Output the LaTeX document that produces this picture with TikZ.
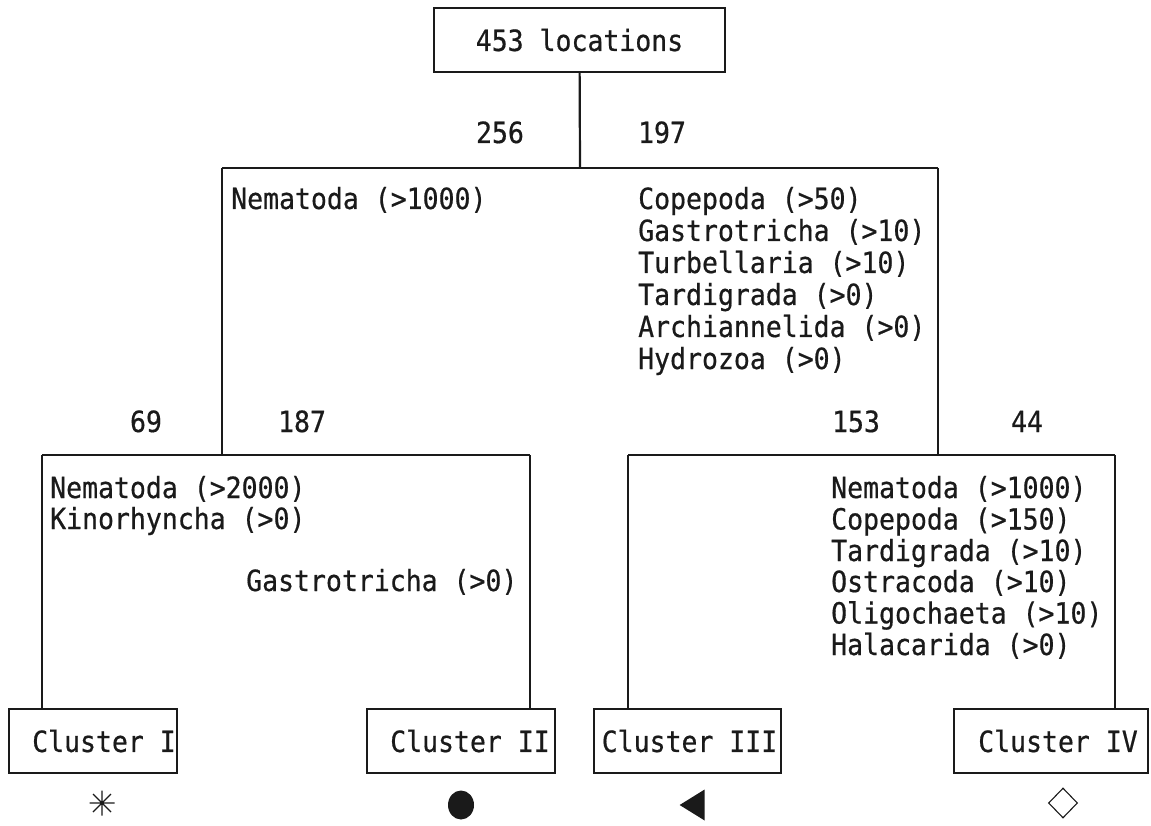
\documentclass[tikz,border=0pt]{standalone}
\usepackage{fontspec}
\usepackage{graphicx}
\newfontfamily\monofam{DejaVu Sans Mono}[BoldFont=DejaVu Sans Mono, BoldFeatures={FakeBold=0.6}]
\usetikzlibrary{shapes.geometric,calc}
\definecolor{ink}{HTML}{1A1A1A}
\newcommand\tx[1]{\scalebox{1}[1.1]{#1}}
\begin{document}
\begin{tikzpicture}[x=1pt,y=-1pt,
  every node/.style={font=\monofam\bfseries\fontsize{26.5}{32}\selectfont, text=ink, inner sep=0pt},
  box/.style={draw=ink, line width=2.2pt, minimum height=64pt},
  lbl/.style={anchor=base west},
  num/.style={anchor=base},
  link/.style={draw=ink, line width=2.2pt}]
\useasboundingbox (0,0) rectangle (1151,826);
\fill[white] (0,0) rectangle (1151,826);

% top
\node[box, minimum width=291pt] (top) at (579.5,40) {\tx{453 locations}};
\coordinate (m) at (580,168);
\coordinate (a) at (222,168);
\coordinate (b) at (938,168);
\coordinate (c) at (222,455);
\coordinate (d) at (938,455);
\coordinate (e) at (42,455);
\coordinate (f) at (530,455);
\coordinate (g) at (628,455);
\coordinate (h) at (1115,455);

% cluster boxes
\node[box, minimum width=168pt] (c1) at (93,741) {\hspace*{22pt}\tx{Cluster I}};
\node[box, minimum width=188pt] (c2) at (461,741) {\hspace*{18pt}\tx{Cluster II}};
\node[box, minimum width=187pt] (c3) at (687.5,741) {\hspace*{4pt}\tx{Cluster III}};
\node[box, minimum width=194pt] (c4) at (1051,741) {\hspace*{14pt}\tx{Cluster IV}};

% connectors
\draw[link] (top) -- (m);
\draw[link] (a) -- (b);
\draw[link] (a) -- (c);
\draw[link] (b) -- (d);
\draw[link] (e) -- (f);
\draw[link] (g) -- (h);
\draw[link] (e) -- (e |- c1.north);
\draw[link] (f) -- (f |- c2.north);
\draw[link] (g) -- (g |- c3.north);
\draw[link] (h) -- (h |- c4.north);

% numbers
\node[num] (n256) at (500,143) {\tx{256}};
\node[num] (n197) at (662,143) {\tx{197}};
\node[num] (n69) at (146,432) {\tx{69}};
\node[num] (n187) at (302,432) {\tx{187}};
\node[num] (n153) at (856,432) {\tx{153}};
\node[num] (n44) at (1027,432) {\tx{44}};

% criteria level 1
\node[lbl] (l1) at (231,209) {\tx{Nematoda (>1000)}};
\node[lbl] (r1) at (638,209) {\tx{Copepoda (>50)}};
\node[lbl] (r2) at (638,241) {\tx{Gastrotricha (>10)}};
\node[lbl] (r3) at (638,273) {\tx{Turbellaria (>10)}};
\node[lbl] (r4) at (638,305) {\tx{Tardigrada (>0)}};
\node[lbl] (r5) at (638,337) {\tx{Archiannelida (>0)}};
\node[lbl] (r6) at (638,369) {\tx{Hydrozoa (>0)}};

% criteria level 2 left
\node[lbl] (ll1) at (50,498) {\tx{Nematoda (>2000)}};
\node[lbl] (ll2) at (50,529) {\tx{Kinorhyncha (>0)}};
\node[lbl] (ll3) at (246,591) {\tx{Gastrotricha (>0)}};

% criteria level 2 right
\node[lbl] (rr1) at (831,498) {\tx{Nematoda (>1000)}};
\node[lbl] (rr2) at (831,529.5) {\tx{Copepoda (>150)}};
\node[lbl] (rr3) at (831,561) {\tx{Tardigrada (>10)}};
\node[lbl] (rr4) at (831,592) {\tx{Ostracoda (>10)}};
\node[lbl] (rr5) at (831,623.5) {\tx{Oligochaeta (>10)}};
\node[lbl] (rr6) at (831,655) {\tx{Halacarida (>0)}};

% symbols
\coordinate (s1) at (102,803);
\draw[ink, line width=1.3pt] ($(s1)+(0,-12.5)$) -- ($(s1)+(0,12.5)$)
  ($(s1)+(-12.5,0)$) -- ($(s1)+(12.5,0)$)
  ($(s1)+(-9,-9)$) -- ($(s1)+(9,9)$)
  ($(s1)+(-9,9)$) -- ($(s1)+(9,-9)$);
\node[ellipse, fill=ink, minimum width=26pt, minimum height=29pt] (s2) at (461,805) {};
\node[isosceles triangle, fill=ink, shape border rotate=180, isosceles triangle stretches, minimum height=25pt, minimum width=31pt] (s3) at (696,805) {};
\node[diamond, draw=ink, line width=1.1pt, minimum width=29pt, minimum height=30pt] (s4) at (1063,803) {};
\end{tikzpicture}
\end{document}
